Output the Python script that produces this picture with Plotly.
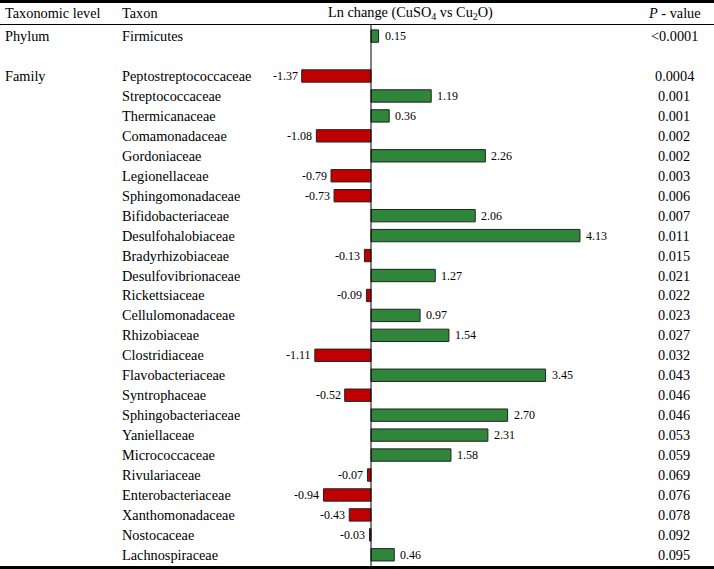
import plotly.graph_objects as go

# ---- data ----
phylum_taxa = ["Firmicutes"]
phylum_change = [0.15]
phylum_p = ["<0.0001"]

family_taxa = ["Peptostreptococcaceae", "Streptococcaceae", "Thermicanaceae", "Comamonadaceae",
               "Gordoniaceae", "Legionellaceae", "Sphingomonadaceae", "Bifidobacteriaceae",
               "Desulfohalobiaceae", "Bradyrhizobiaceae", "Desulfovibrionaceae", "Rickettsiaceae",
               "Cellulomonadaceae", "Rhizobiaceae", "Clostridiaceae", "Flavobacteriaceae",
               "Syntrophaceae", "Sphingobacteriaceae", "Yaniellaceae", "Micrococcaceae",
               "Rivulariaceae", "Enterobacteriaceae", "Xanthomonadaceae", "Nostocaceae",
               "Lachnospiraceae"]
family_change = [-1.37, 1.19, 0.36, -1.08, 2.26, -0.79, -0.73, 2.06, 4.13, -0.13, 1.27, -0.09,
                 0.97, 1.54, -1.11, 3.45, -0.52, 2.70, 2.31, 1.58, -0.07, -0.94, -0.43, -0.03, 0.46]
family_p = ["0.0004", "0.001", "0.001", "0.002", "0.002", "0.003", "0.006", "0.007", "0.011",
            "0.015", "0.021", "0.022", "0.023", "0.027", "0.032", "0.043", "0.046", "0.046",
            "0.053", "0.059", "0.069", "0.076", "0.078", "0.092", "0.095"]

# ---- layout helpers ----
W, H = 714, 569
ROW_PX = 19.95
FIRST_ROW_PX = 76
PX_PER_UNIT = 50.6
ZERO_PX = 371
FONT = "Liberation Serif"

phylum_rows = [-2]
family_rows = list(range(len(family_taxa)))

taxa = phylum_taxa + family_taxa
changes = phylum_change + family_change
pvals = phylum_p + family_p
rows = phylum_rows + family_rows

colors = ["#2F853A" if v >= 0 else "#C00000" for v in changes]


def px_to_row(p):
    return (p - FIRST_ROW_PX) / ROW_PX


def ypaper(p):
    return 1 - p / H


def xpaper(p):
    return p / W


fig = go.Figure()
fig.add_trace(go.Bar(
    x=changes, y=rows, orientation="h", width=0.62,
    marker=dict(color=colors, line=dict(color="#222222", width=1)),
    customdata=taxa, hovertemplate="%{customdata}: %{x:.2f}<extra></extra>",
))

annotations = []
txt = dict(family=FONT, size=14.3, color="black")
small = dict(family=FONT, size=12, color="black")

# header
annotations.append(dict(x=xpaper(3), y=ypaper(13), xref="paper", yref="paper", text="Taxonomic level",
                        xanchor="left", yanchor="middle", showarrow=False, font=txt))
annotations.append(dict(x=xpaper(120), y=ypaper(13), xref="paper", yref="paper", text="Taxon",
                        xanchor="left", yanchor="middle", showarrow=False, font=txt))
annotations.append(dict(x=xpaper(411), y=ypaper(13), xref="paper", yref="paper",
                        text="Ln change (CuSO<sub>4</sub> vs Cu<sub>2</sub>O)",
                        xanchor="center", yanchor="middle", showarrow=False, font=txt))
annotations.append(dict(x=xpaper(674), y=ypaper(13), xref="paper", yref="paper",
                        text="<i>P</i> - value",
                        xanchor="center", yanchor="middle", showarrow=False, font=txt))

# level labels
annotations.append(dict(x=xpaper(3), y=phylum_rows[0], xref="paper", yref="y", text="Phylum",
                        xanchor="left", yanchor="middle", showarrow=False, font=txt))
annotations.append(dict(x=xpaper(3), y=family_rows[0], xref="paper", yref="y", text="Family",
                        xanchor="left", yanchor="middle", showarrow=False, font=txt))

for t, v, p, r in zip(taxa, changes, pvals, rows):
    annotations.append(dict(x=xpaper(120), y=r, xref="paper", yref="y", text=t,
                            xanchor="left", yanchor="middle", showarrow=False, font=txt))
    annotations.append(dict(x=xpaper(674), y=r, xref="paper", yref="y", text=p,
                            xanchor="center", yanchor="middle", showarrow=False, font=txt))
    annotations.append(dict(x=v, y=r, xref="x", yref="y", text=f"{v:.2f}",
                            xanchor="left" if v >= 0 else "right",
                            xshift=4 if v >= 0 else -2,
                            yanchor="middle", showarrow=False, font=small))

shapes = [
    dict(type="line", xref="paper", yref="paper", x0=0, x1=1, y0=ypaper(1.5), y1=ypaper(1.5),
         line=dict(color="black", width=3)),
    dict(type="line", xref="paper", yref="paper", x0=0, x1=1, y0=ypaper(24.5), y1=ypaper(24.5),
         line=dict(color="black", width=1)),
    dict(type="line", xref="paper", yref="paper", x0=0, x1=1, y0=ypaper(567.5), y1=ypaper(567.5),
         line=dict(color="black", width=3)),
    dict(type="line", xref="x", yref="paper", x0=0, x1=0, y0=ypaper(25), y1=ypaper(566),
         line=dict(color="black", width=1)),
]

fig.update_layout(
    width=W, height=H,
    margin=dict(l=0, r=0, t=0, b=0),
    paper_bgcolor="white", plot_bgcolor="white",
    showlegend=False,
    xaxis=dict(range=[-ZERO_PX / PX_PER_UNIT, (W - ZERO_PX) / PX_PER_UNIT], domain=[0, 1],
               showgrid=False, zeroline=False, showticklabels=False, ticks="", fixedrange=True),
    yaxis=dict(range=[px_to_row(H), px_to_row(0)], domain=[0, 1],
               showgrid=False, zeroline=False, showticklabels=False, ticks="", fixedrange=True),
    annotations=annotations,
    shapes=shapes,
    font=dict(family=FONT, color="black"),
)

fig.write_html("out.html", config={"displayModeBar": False},
               post_script="document.body.style.margin='0';document.body.style.overflow='hidden';")
